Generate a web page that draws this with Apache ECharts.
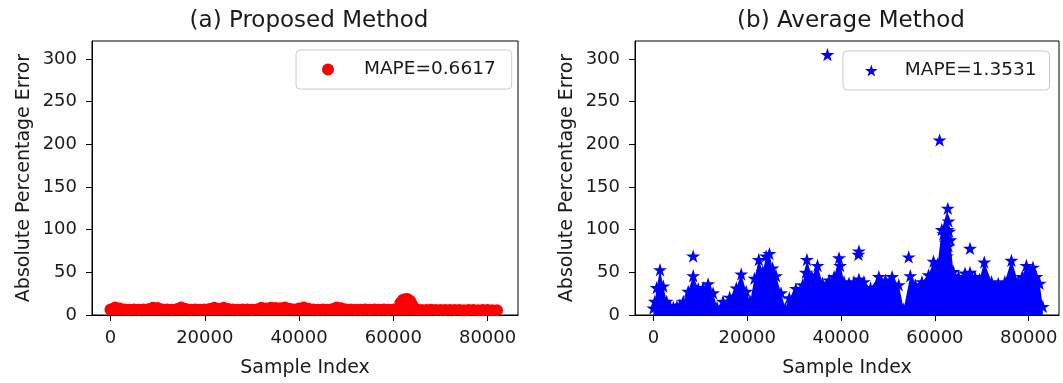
<!DOCTYPE html>
<html lang="en">
<head>
  <meta charset="UTF-8">
  <title>APE scatter</title>
  <script src="https://cdn.jsdelivr.net/npm/echarts@6/dist/echarts.min.js"></script>
</head>
<body style="margin:0;background:#fff;">
<div id="main" style="width: 1063px;height:383px;"></div>
<script type="text/javascript">

// tick labels
var xTicks = [0, 20000, 40000, 60000, 80000];
var yTicks = [0, 50, 100, 150, 200, 250, 300];

// (a) proposed method - absolute percentage error per sample
var redIdx = [0, 1000, 2000, 3000, 4000, 5000, 6000, 7000, 8000, 9000,
  10000, 11000, 12000, 13000, 14000, 15000, 16000, 17000, 18000, 19000,
  20000, 21000, 22000, 23000, 24000, 25000, 26000, 27000, 28000, 29000,
  30000, 31000, 32000, 33000, 34000, 35000, 36000, 37000, 38000, 39000,
  40000, 41000, 42000, 43000, 44000, 45000, 46000, 47000, 48000, 49000,
  50000, 51000, 52000, 53000, 54000, 55000, 56000, 57000, 58000, 59000,
  60000, 61000, 61500, 62000, 62500, 63000, 63600, 64000, 65000, 66000,
  67000, 68000, 69000, 70000, 71000, 72000, 73000, 74000, 75000, 76000,
  77000, 78000, 79000, 80000, 81000, 82000];
var redErr = [6.5, 8.8, 7.5, 6.3, 6.2, 6.3, 6.1, 6.4, 6.6, 8.6,
  8.2, 6.5, 6.3, 6.2, 6.8, 8.7, 7.0, 6.2, 6.4, 6.1,
  6.3, 7.1, 8.6, 7.4, 8.5, 7.0, 6.3, 6.2, 6.4, 6.3,
  6.1, 6.5, 8.4, 7.6, 8.6, 8.1, 7.8, 8.7, 7.2, 6.4,
  7.5, 8.9, 7.3, 6.3, 6.2, 6.4, 6.1, 6.8, 8.8, 7.9,
  6.5, 6.3, 6.2, 6.1, 6.3, 6.2, 6.4, 6.1, 6.3, 6.2,
  6.3, 6.5, 14.0, 17.5, 18.5, 18.8, 16.5, 12.0, 6.4, 6.0,
  5.9, 6.1, 6.0, 5.8, 5.9, 6.0, 5.8, 6.0, 5.7, 5.9,
  5.8, 5.7, 5.8, 5.9, 5.7, 5.5];
var redExtraIdx = [61500, 62000, 62500, 63000, 63600, 64000, 62300, 63300];
var redExtraErr = [7.0, 11.0, 12.0, 11.5, 7.0, 6.5, 7.0, 7.0];

// (b) average method - top of the dense cloud
var blueIdx = [0, 300, 700, 1410, 2100, 2830, 3500, 4240, 5000, 5650,
  6360, 7420, 8480, 9540, 10600, 11660, 12720, 13570, 14840, 16250,
  17670, 18720, 19780, 20630, 21550, 22470, 23320, 24020, 24730, 25400,
  26140, 27200, 28120, 28970, 30380, 31800, 32720, 33780, 34980, 36040,
  37450, 38510, 39570, 40630, 41690, 42750, 43810, 44870, 46280, 48050,
  49460, 50880, 52290, 53350, 54760, 55820, 57230, 58650, 59700, 60600,
  61470, 62750, 63030, 63950, 65040, 66420, 67480, 68540, 69500, 70520,
  72070, 73490, 74900, 76310, 77730, 78600, 79490, 80200, 80900, 81600,
  82320, 83000];
var blueErr = [8, 16, 32, 53, 34, 16, 11, 9, 10, 11.5,
  16, 27.7, 46, 31, 32, 36.5, 26, 9, 16, 20.8,
  31.6, 48, 27.7, 16, 43, 65, 50.8, 69, 72, 55,
  46, 26, 8, 20, 31, 35.4, 65, 45, 58, 37.4,
  41, 45, 67, 39, 37.4, 39, 42, 39, 31.6, 45,
  41, 45, 35.4, 7, 46, 35.4, 39, 47, 63, 60,
  100, 125, 98, 51, 45, 49, 50, 45, 42, 62,
  39, 37, 39, 64, 39, 45, 58, 48, 56, 45,
  37, 10];
// isolated stars and some inside the cloud
var blueOutIdx = [37100, 61000, 8480, 43810, 43700, 54410, 67480, 32500, 39800,
  62530, 62890, 62890, 61800, 62300, 63300, 62700];
var blueOutErr = [305, 205, 69, 75, 71, 68, 78, 50, 58,
  69, 110, 81, 95, 85, 88, 100];

var names = ['MAPE=0.6617', 'MAPE=1.3531'];
var titles = ['(a) Proposed Method', '(b) Average Method'];

function pairs(xs, ys) {
  return xs.map(function (x, i) { return [x, ys[i]]; });
}

function starPath() {
  var pts = [];
  for (var k = 0; k < 10; k++) {
    var a = -Math.PI / 2 + k * Math.PI / 5;
    var r = k % 2 ? 0.382 : 1;
    pts.push((Math.cos(a) * r * 100).toFixed(1) + ',' + (Math.sin(a) * r * 100).toFixed(1));
  }
  return 'path://M' + pts.join('L') + 'Z';
}
var STAR = starPath();
var FONT = 'DejaVu Sans';
var TXT = '#1a1a1a';

var grids = [
  { left: 92, top: 41, width: 426, height: 280 },
  { left: 635, top: 41, width: 424, height: 280 }
];

function xAxisFor(i) {
  return {
    type: 'value', gridIndex: i, min: -3920, max: 86450,
    axisLine: { show: true, onZero: false, lineStyle: { color: '#000', width: 1 } },
    axisTick: { show: true, length: 6, customValues: xTicks, lineStyle: { color: '#000' } },
    axisLabel: { customValues: xTicks, fontSize: 18, color: TXT, fontFamily: FONT, margin: 14,
      formatter: function (v) { return String(v); } },
    splitLine: { show: false },
    name: 'Sample Index', nameLocation: 'middle', nameGap: 44,
    nameTextStyle: { fontSize: 19, color: TXT, fontFamily: FONT }
  };
}
function yAxisFor(i) {
  return {
    type: 'value', gridIndex: i, min: 0, max: 321,
    axisLine: { show: true, onZero: false, lineStyle: { color: '#000', width: 1 } },
    axisTick: { show: true, length: 6, customValues: yTicks, lineStyle: { color: '#000' } },
    axisLabel: { customValues: yTicks, fontSize: 18, color: TXT, fontFamily: FONT, margin: 15 },
    splitLine: { show: false },
    name: 'Absolute Percentage Error', nameLocation: 'middle', nameGap: 58,
    nameTextStyle: { fontSize: 19, color: TXT, fontFamily: FONT }
  };
}

var myChart = echarts.init(document.getElementById('main'), null, { renderer: 'canvas' });

var option = {
  animation: false,
  backgroundColor: '#fff',
  title: [
    { text: titles[0], left: 304, top: 5, textAlign: 'center',
      textStyle: { fontSize: 23, fontWeight: 'normal', color: TXT, fontFamily: FONT } },
    { text: titles[1], left: 846, top: 5, textAlign: 'center',
      textStyle: { fontSize: 23, fontWeight: 'normal', color: TXT, fontFamily: FONT } }
  ],
  grid: grids.map(function (g) {
    return Object.assign({ show: true, borderColor: '#000', borderWidth: 1, containLabel: false }, g);
  }),
  xAxis: [xAxisFor(0), xAxisFor(1)],
  yAxis: [yAxisFor(0), yAxisFor(1)],
  legend: [
    { data: [{ name: names[0], icon: 'circle' }], left: 296, top: 50, orient: 'horizontal',
      itemWidth: 62, itemHeight: 12, itemGap: 0, padding: [10, 16, 10, 26],
      borderColor: '#cccccc', borderWidth: 1, borderRadius: 4, backgroundColor: 'rgba(255,255,255,0.8)',
      selectedMode: false, textStyle: { fontSize: 18.5, color: TXT, fontFamily: FONT } },
    { data: [{ name: names[1], icon: STAR }], left: 843, top: 51, orient: 'horizontal',
      itemWidth: 57, itemHeight: 12, itemGap: 0, padding: [10, 13, 10, 22],
      borderColor: '#cccccc', borderWidth: 1, borderRadius: 4, backgroundColor: 'rgba(255,255,255,0.8)',
      selectedMode: false, textStyle: { fontSize: 18.5, color: TXT, fontFamily: FONT } }
  ],
  series: [
    {
      name: 'band', type: 'line', xAxisIndex: 0, yAxisIndex: 0,
      symbol: 'none', silent: true, lineStyle: { width: 0 },
      areaStyle: { color: '#ff0000', opacity: 1 },
      data: pairs(redIdx, redErr), z: 2
    },
    {
      name: names[0], type: 'scatter', xAxisIndex: 0, yAxisIndex: 0,
      symbol: 'circle', symbolSize: 12, itemStyle: { color: '#ff0000', opacity: 1 },
      data: pairs(redIdx, redErr).concat(pairs(redExtraIdx, redExtraErr)), z: 3
    },
    {
      name: 'cloud', type: 'line', xAxisIndex: 1, yAxisIndex: 1,
      symbol: 'none', silent: true, lineStyle: { width: 0 },
      areaStyle: { color: '#0000ff', opacity: 1 },
      data: pairs(blueIdx, blueErr), z: 2
    },
    {
      name: names[1], type: 'scatter', xAxisIndex: 1, yAxisIndex: 1,
      symbol: STAR, symbolSize: 14, symbolKeepAspect: true, itemStyle: { color: '#0000ff', opacity: 1 },
      data: pairs(blueIdx, blueErr).concat(pairs(blueOutIdx, blueOutErr)), z: 3
    }
  ]
};

myChart.setOption(option);

</script>
</body>
</html>
